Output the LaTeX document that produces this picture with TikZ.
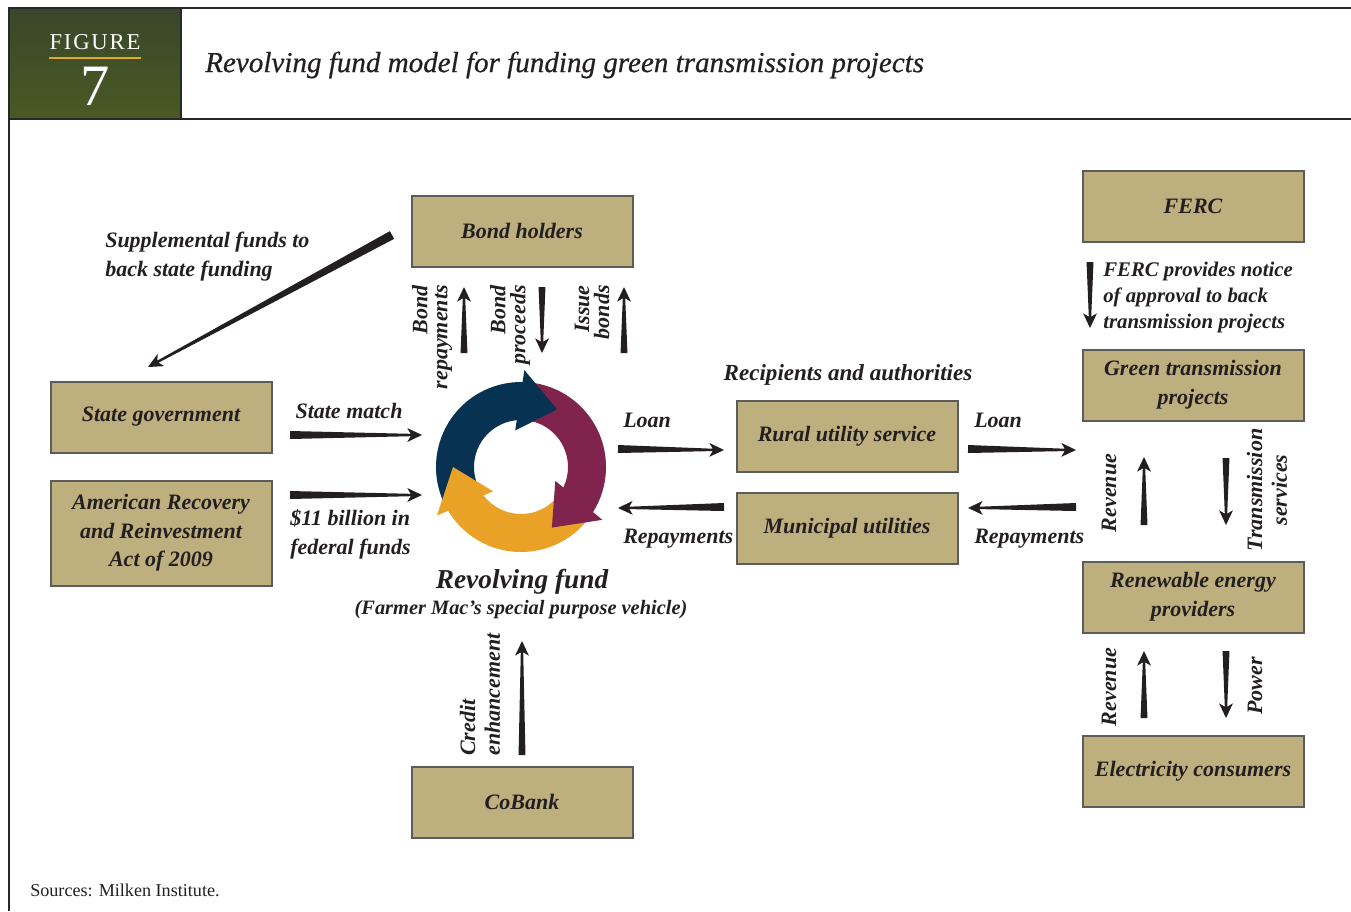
\documentclass[tikz,border=0pt]{standalone}
\usepackage{fontspec}
\setmainfont{Liberation Serif}
\newfontface\titleface{Liberation Serif Italic}[FakeBold=0.6]
\usetikzlibrary{calc}

\definecolor{tan}{RGB}{190,175,126}
\definecolor{boxline}{RGB}{92,92,90}
\definecolor{ink}{RGB}{35,31,32}
\definecolor{navy}{RGB}{8,50,82}
\definecolor{plum}{RGB}{128,36,78}
\definecolor{amber}{RGB}{234,162,38}
\definecolor{olivetop}{RGB}{58,70,42}
\definecolor{olivebot}{RGB}{74,90,36}
\definecolor{gold}{RGB}{222,172,28}
\definecolor{frame}{RGB}{40,40,40}

\newcommand{\lab}{\fontsize{16.5}{21.5}\selectfont\bfseries\itshape}

% tapered arrow: #1 tail, #2 tip, #3 half width at the tail
\newcommand{\tarrow}[3]{%
  \path ($(#2)!8.5pt!(#1)$) coordinate (hb) ($(#2)!11pt!(#1)$) coordinate (hw);
  \fill[ink] ($(#1)!#3!90:(#2)$) -- ($(hb)!0.9pt!-90:(#1)$) -- ($(hw)!5.2pt!-90:(#1)$)
    -- (#2) -- ($(hw)!5.2pt!90:(#1)$) -- ($(hb)!0.9pt!90:(#1)$) -- ($(#1)!#3!-90:(#2)$) -- cycle;
}

\begin{document}
\begin{tikzpicture}[x=0.75pt, y=-0.75pt,
  box/.style={draw=boxline, line width=1.5pt, fill=tan, minimum width=165.75pt,
    minimum height=53.25pt, inner sep=0pt, align=center, text=ink, font=\lab},
  lbl/.style={inner sep=0pt, text=ink, font=\lab},
  vlbl/.style={lbl, rotate=90},
  tight/.style={font=\fontsize{16.5}{15}\selectfont\bfseries\itshape}]

\useasboundingbox (0,0) rectangle (1351,911);

% header band
\shade[top color=olivetop, bottom color=olivebot] (9,8) rectangle (181,119);
\draw[frame, line width=1.1pt] (1351,8) -- (9,8) -- (9,911);
\draw[frame, line width=1.1pt] (9,119) -- (1351,119);
\draw[frame, line width=1.1pt] (181,8) -- (181,119);
\node[inner sep=0pt, text=white, font=\fontsize{17}{17}\selectfont\addfontfeatures{LetterSpace=8}] (figword) at (95,42) {FIGURE};
\draw[gold, line width=1.8pt] (49,58) -- (141,58);
\node[inner sep=0pt, text=white, font=\fontsize{44}{44}\selectfont] (fignum) at (95,86) {7};
\node[inner sep=0pt, anchor=west, text=ink, font=\fontsize{21.8}{25}\titleface] (title) at (205,65)
  {Revolving fund model for funding green transmission projects};

% boxes
\node[box] (bond) at (522,231) {Bond holders};
\node[box] (ferc) at (1193,206) {FERC};
\node[box] (state) at (161,417) {State government};
\node[box, minimum height=78.75pt] (arra) at (161,533) {American Recovery\\and Reinvestment\\Act of 2009};
\node[box] (rus) at (847,436) {Rural utility service};
\node[box] (muni) at (847,528) {Municipal utilities};
\node[box] (green) at (1193,385) {Green transmission\\projects};
\node[box] (renew) at (1193,597) {Renewable energy\\providers};
\node[box] (cons) at (1193,771) {Electricity consumers};
\node[box] (cobank) at (522,802) {CoBank};

% revolving cycle
\begin{scope}[shift={(521,467)}, y=0.75pt]
  \fill[navy]  (206:85) arc[start angle=206, end angle=85, radius=85] -- (85:47) arc[start angle=85, end angle=206, radius=47] -- cycle;
  \fill[plum]  (84:85) arc[start angle=84, end angle=-36, radius=85] -- (-36:47) arc[start angle=-36, end angle=84, radius=47] -- cycle;
  \fill[amber] (-37:85) arc[start angle=-37, end angle=-153, radius=85] -- (-153:47) arc[start angle=-153, end angle=-37, radius=47] -- cycle;
  \fill[navy]  (88:97) -- (58:68) -- (99:37) -- cycle;
  \fill[plum]  (-33:97) -- (-63:68) -- (-22:37) -- cycle;
  \fill[amber] (210:97) -- (180:68) -- (221:37) -- cycle;
\end{scope}
\node[inner sep=0pt, text=ink, font=\fontsize{20.5}{24}\selectfont\bfseries\itshape] (rf) at (522,582) {Revolving fund};
\node[inner sep=0pt, text=ink, font=\fontsize{15.3}{18}\selectfont\bfseries\itshape] (rfsub) at (521,610) {(Farmer Mac’s special purpose vehicle)};

% arrow end points
\coordinate (supT) at (392,235);  \coordinate (supH) at (148,367);
\coordinate (smT) at (290,435);   \coordinate (smH) at (422,435);
\coordinate (ffT) at (290,495);   \coordinate (ffH) at (422,495);
\coordinate (lnT) at (618,449);   \coordinate (lnH) at (724,450);
\coordinate (rpT) at (724,507);   \coordinate (rpH) at (618,508);
\coordinate (ln2T) at (968,449);  \coordinate (ln2H) at (1076,450);
\coordinate (rp2T) at (1076,507); \coordinate (rp2H) at (968,508);
\coordinate (brT) at (464,353);   \coordinate (brH) at (464,287);
\coordinate (bpT) at (542,287);   \coordinate (bpH) at (542,353);
\coordinate (ibT) at (624,353);   \coordinate (ibH) at (624,287);
\coordinate (fnT) at (1090,262);  \coordinate (fnH) at (1090,328);
\coordinate (rv1T) at (1144,525); \coordinate (rv1H) at (1144,457);
\coordinate (tsT) at (1226,458);  \coordinate (tsH) at (1226,525);
\coordinate (rv2T) at (1144,718); \coordinate (rv2H) at (1144,651);
\coordinate (pwT) at (1226,651);  \coordinate (pwH) at (1226,718);
\coordinate (ceT) at (522,755);   \coordinate (ceH) at (522,641);

\tarrow{supT}{supH}{3.3pt}
\tarrow{smT}{smH}{3pt}
\tarrow{ffT}{ffH}{3pt}
\tarrow{lnT}{lnH}{3pt}
\tarrow{rpT}{rpH}{3pt}
\tarrow{ln2T}{ln2H}{3pt}
\tarrow{rp2T}{rp2H}{3pt}
\tarrow{brT}{brH}{2.6pt}
\tarrow{bpT}{bpH}{2.6pt}
\tarrow{ibT}{ibH}{2.6pt}
\tarrow{fnT}{fnH}{2.6pt}
\tarrow{rv1T}{rv1H}{2.6pt}
\tarrow{tsT}{tsH}{2.6pt}
\tarrow{rv2T}{rv2H}{2.6pt}
\tarrow{pwT}{pwH}{2.6pt}
\tarrow{ceT}{ceH}{2.6pt}

% labels (a multi-line node's base is the baseline of its last line)
\node[lbl, anchor=base west, align=left] (supl) at (105,276) {Supplemental funds to\\back state funding};
\node[lbl] (sml) at (349,411) {State match};
\node[lbl, anchor=base west, align=left] (ffl) at (290,554) {\$11 billion in\\federal funds};
\node[lbl, anchor=base west] (lnl) at (623,427) {Loan};
\node[lbl, anchor=base west] (rpl) at (623,543) {Repayments};
\node[lbl, anchor=base west] (ln2l) at (974,427) {Loan};
\node[lbl, anchor=base west] (rp2l) at (974,543) {Repayments};
\node[lbl, font=\fontsize{17.3}{21}\selectfont\bfseries\itshape] (recl) at (848,375) {Recipients and authorities};
\node[lbl, anchor=base west, align=left, font=\fontsize{15.6}{19.5}\selectfont\bfseries\itshape] (fercl) at (1103,328) {FERC provides notice\\of approval to back\\transmission projects};
\node[vlbl, tight, anchor=east, align=right] (brl) at (432,285) {Bond\\repayments};
\node[vlbl, tight, anchor=east, align=right] (bpl) at (510,285) {Bond\\proceeds};
\node[vlbl, tight, anchor=east, align=right] (ibl) at (592,285) {Issue\\bonds};
\node[vlbl, anchor=west, align=left, font=\fontsize{16.5}{18.5}\selectfont\bfseries\itshape] (cel) at (480,756) {Credit\\enhancement};
\node[vlbl] (rv1l) at (1109,493) {Revenue};
\node[vlbl, align=center, font=\fontsize{16.5}{18.5}\selectfont\bfseries\itshape] (tsl) at (1267,490) {Transmission\\services};
\node[vlbl] (rv2l) at (1109,687) {Revenue};
\node[vlbl] (pwl) at (1255,686) {Power};

\node[inner sep=0pt, anchor=west, text=ink, font=\fontsize{13.6}{16}\selectfont] (src) at (30,890) {Sources: Milken Institute.};
\end{tikzpicture}
\end{document}
